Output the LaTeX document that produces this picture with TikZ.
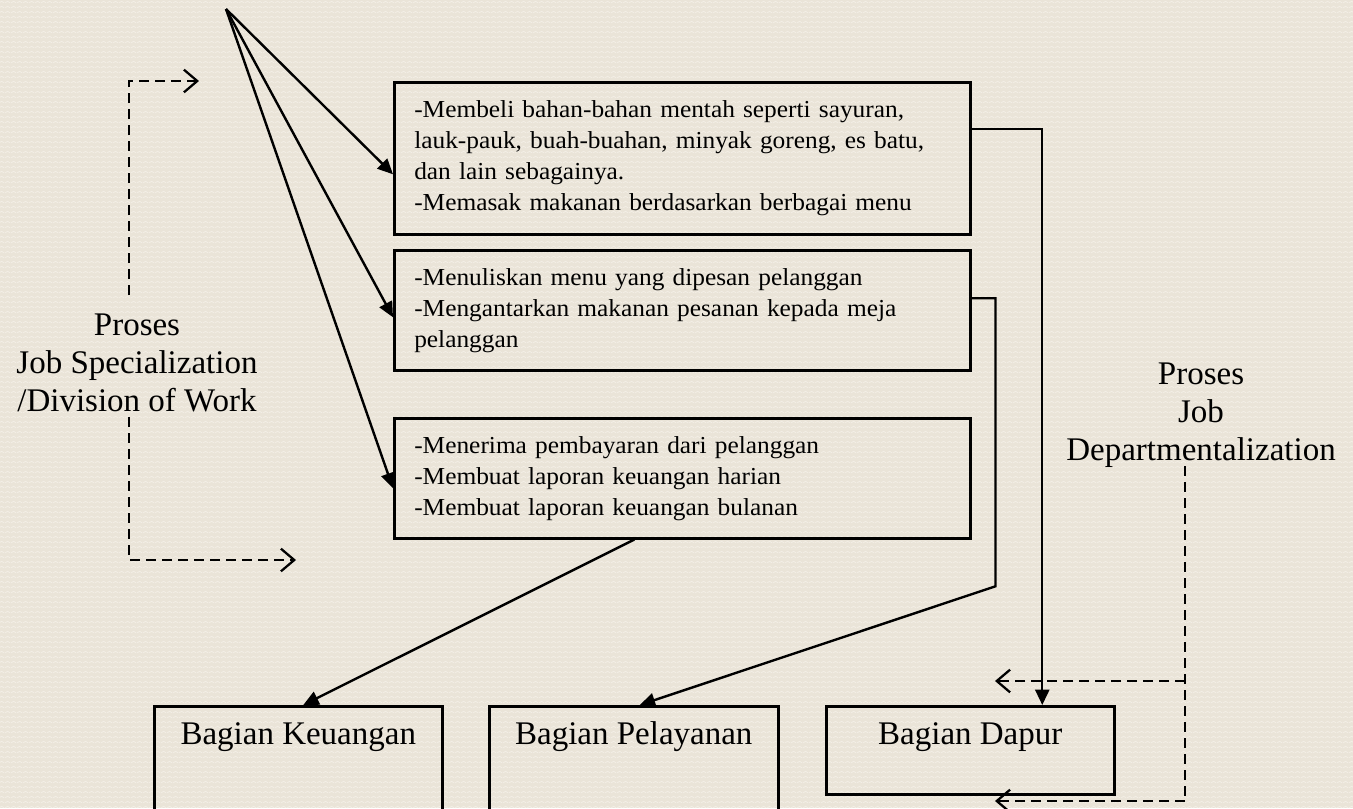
\documentclass[tikz,border=0pt]{standalone}
\usepackage{fontspec}
\setmainfont{Liberation Serif}
\newfontfamily\boxfont[FakeStretch=1.04]{Liberation Serif}
\usetikzlibrary{arrows.meta,calc,patterns}
\definecolor{bgbase}{HTML}{EAE4D8}
\definecolor{bgwave}{HTML}{F4F0E8}
\pgfdeclarepatternformonly{zzbg}{\pgfqpoint{0pt}{0pt}}{\pgfqpoint{4.5pt}{3.75pt}}{\pgfqpoint{4.5pt}{3.75pt}}{%
  \pgfsetlinewidth{0.55pt}%
  \pgfpathmoveto{\pgfqpoint{0pt}{0.9pt}}%
  \pgfpathlineto{\pgfqpoint{2.25pt}{2.5pt}}%
  \pgfpathlineto{\pgfqpoint{4.5pt}{0.9pt}}%
  \pgfusepath{stroke}%
}
\begin{document}
\begin{tikzpicture}[x=0.75pt,y=-0.75pt,
  taskbox/.style={draw, line width=1.9pt, anchor=north west, inner xsep=15pt, inner ysep=0pt,
    text width=402pt, align=left, font=\boxfont\fontsize{18.3pt}{23.25pt}\selectfont},
  unitbox/.style={draw, line width=1.9pt, anchor=north west, minimum width=216pt, inner sep=0pt},
  lbl/.style={font=\fontsize{24.75pt}{28.5pt}\selectfont, inner sep=0pt, align=center},
  conn/.style={line width=1.8pt, -{Triangle[length=11.5pt,width=10.5pt]}},
  dashconn/.style={line width=1.7pt, dash pattern=on 7.5pt off 4.5pt},
  barb/.style={-{Straight Barb[length=10pt,width=17pt]}}
]
\clip (0,0) rectangle (1353,808);
\fill[bgbase] (0,0) rectangle (1353,808);
\fill[pattern=zzbg, pattern color=bgwave] (0,0) rectangle (1353,808);

% task boxes
\node[taskbox, minimum height=114pt] (box1) at (393,81)
  {-Membeli bahan-bahan mentah seperti sayuran,\\lauk-pauk, buah-buahan, minyak goreng, es batu,\\dan lain sebagainya.\\-Memasak makanan berdasarkan berbagai menu};
\node[taskbox, minimum height=90pt] (box2) at (393,249)
  {-Menuliskan menu yang dipesan pelanggan\\-Mengantarkan makanan pesanan kepada meja\\pelanggan};
\node[taskbox, minimum height=90pt] (box3) at (393,417)
  {-Menerima pembayaran dari pelanggan\\-Membuat laporan keuangan harian\\-Membuat laporan keuangan bulanan};

% unit boxes
\node[unitbox, minimum height=112pt] (keu) at (153,705) {};
\node[unitbox, minimum width=216.75pt, minimum height=112pt] (pel) at (488,705) {};
\node[unitbox, minimum height=66pt] (dap) at (825,705) {};
\node[lbl, anchor=base] (keut) at ($(keu.north)+(0,39)$) {Bagian Keuangan};
\node[lbl, anchor=base] (pelt) at ($(pel.north)+(0,39)$) {Bagian Pelayanan};
\node[lbl, anchor=base] (dapt) at ($(dap.north)+(0,39)$) {Bagian Dapur};

% labels
\node[lbl, anchor=north] (spec) at (137,314) {Proses\\Job Specialization\\/Division of Work};
\node[lbl, anchor=north] (dept) at (1201,363) {Proses\\Job\\Departmentalization};

% apex arrows
\coordinate (apex) at (226,9);
\draw[conn] (apex) -- ($(box1.west)+(0,16)$);
\draw[conn] (apex) -- ($(box2.west)+(0,7)$);
\draw[conn] (apex) -- ($(box3.west)+(0,10)$);

% boxes to units
\draw[conn] ($(box1.east)+(0,-29)$) -| ($(dap.north)+(72,0)$);
\draw[conn] ($(box2.east)+(0,-12)$) -- ++(24,0) -- ++(0,288) -- ($(pel.north)+(6,0)$);
\draw[conn] ($(box3.south)+(-48,0)$) -- ($(keu.north)+(5,0)$);

% dashed left
\coordinate (ls1) at (129,295);
\coordinate (ls2) at (199,81);
\coordinate (ls3) at (129,417);
\coordinate (ls4) at (296,560);
\draw[dashconn, barb] (ls1) |- (ls2);
\draw[dashconn, barb] (ls3) |- (ls4);

% dashed right
\coordinate (rs1) at (1185,466);
\coordinate (rs2) at (1185,681);
\coordinate (rs3) at (1185,801);
\coordinate (rt1) at (995,681);
\coordinate (rt2) at (995,801);
\draw[dashconn] (rs1) -- (rs3);
\draw[dashconn, barb] (rs2) -- (rt1);
\draw[dashconn, barb] (rs3) -- (rt2);
\end{tikzpicture}
\end{document}
